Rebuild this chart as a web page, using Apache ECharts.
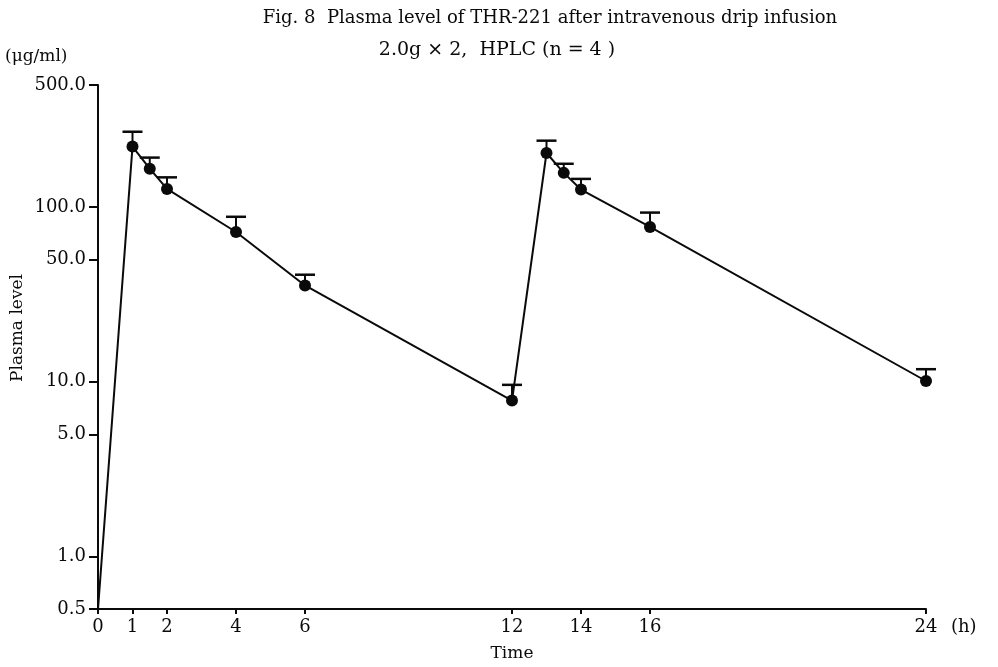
<!DOCTYPE html>
<html>
<head>
<meta charset="utf-8">
<script src="https://cdn.jsdelivr.net/npm/echarts@6/dist/echarts.min.js"></script>
<style>html,body{margin:0;padding:0;background:#fff}#c{width:998px;height:667px}</style>
</head>
<body>
<div id="c"></div>
<script>
// Data
var times = [0, 1, 1.5, 2, 4, 6, 12, 13, 13.5, 14, 16, 24];
var means = [0.5, 222, 166, 127, 72, 35.6, 7.8, 204, 157, 126, 77, 10.1];
var upper = [null, 270, 192, 148, 88, 41, 9.6, 240, 177, 145, 93, 11.8];
var xTicks = [0, 1, 2, 4, 6, 12, 14, 16, 24];
var yTicks = [0.5, 1, 5, 10, 50, 100, 500];

var FONT = 'DejaVu Serif';
var INK = '#0a0a0a';
var lineData = times.map(function (t, i) { return [t, means[i]]; });
var errData = [];
times.forEach(function (t, i) { if (upper[i] != null) errData.push([t, means[i], upper[i]]); });

var chart = echarts.init(document.getElementById('c'), null, {renderer: 'canvas'});
chart.setOption({
  animation: false,
  backgroundColor: '#fff',
  grid: {left: 98, right: 72, top: 85, bottom: 55, containLabel: false},
  graphic: [
    {type: 'text', x: 550, y: 18, style: {text: 'Fig. 8  Plasma level of THR-221 after intravenous drip infusion', font: '18px "' + FONT + '"', fill: INK, align: 'center', verticalAlign: 'middle'}},
    {type: 'text', x: 497, y: 50, style: {text: '2.0g \u00d7 2,  HPLC (n = 4 )', font: '19px "' + FONT + '"', fill: INK, align: 'center', verticalAlign: 'middle'}},
    {type: 'text', x: 5, y: 57, style: {text: '(\u03bcg/ml)', font: '17px "' + FONT + '"', fill: INK, align: 'left', verticalAlign: 'middle'}},
    {type: 'text', x: 18, y: 328, rotation: Math.PI / 2, style: {text: 'Plasma level', font: '17px "' + FONT + '"', fill: INK, align: 'center', verticalAlign: 'middle'}},
    {type: 'text', x: 951, y: 627, style: {text: '(h)', font: '18px "' + FONT + '"', fill: INK, align: 'left', verticalAlign: 'middle'}}
  ],
  xAxis: {
    type: 'value', min: 0, max: 24,
    name: 'Time', nameLocation: 'middle', nameGap: 36,
    nameTextStyle: {fontFamily: FONT, fontSize: 17, color: INK},
    axisLine: {show: true, onZero: false, lineStyle: {color: INK, width: 2}},
    axisTick: {show: true, length: 5, customValues: xTicks, lineStyle: {color: INK, width: 2}},
    axisLabel: {customValues: xTicks, margin: 9, fontFamily: FONT, fontSize: 18, color: INK},
    splitLine: {show: false}
  },
  yAxis: {
    type: 'log', logBase: 10, min: 0.5, max: 500,
    axisLine: {show: true, lineStyle: {color: INK, width: 2}},
    axisTick: {show: true, length: 9, customValues: yTicks, lineStyle: {color: INK, width: 2}},
    axisLabel: {customValues: yTicks, margin: 12, fontFamily: FONT, fontSize: 18, color: INK,
      formatter: function (v) { return Number(v).toFixed(1); }},
    splitLine: {show: false},
    minorTick: {show: false}
  },
  series: [
    {
      type: 'custom', z: 2,
      data: errData,
      renderItem: function (params, api) {
        var x = api.value(0), m = api.value(1), u = api.value(2);
        var p1 = api.coord([x, m]), p2 = api.coord([x, u]);
        return {type: 'group', children: [
          {type: 'line', shape: {x1: p1[0], y1: p1[1], x2: p2[0], y2: p2[1]}, style: {stroke: INK, lineWidth: 2}},
          {type: 'line', shape: {x1: p2[0] - 10, y1: p2[1], x2: p2[0] + 10, y2: p2[1]}, style: {stroke: INK, lineWidth: 2.5}}
        ]};
      }
    },
    {
      type: 'line', z: 3,
      data: lineData,
      symbol: 'circle', symbolSize: function (v) { return v[0] === 0 ? 0 : 12; },
      itemStyle: {color: INK},
      lineStyle: {color: INK, width: 2}
    }
  ]
});
</script>
</body>
</html>
